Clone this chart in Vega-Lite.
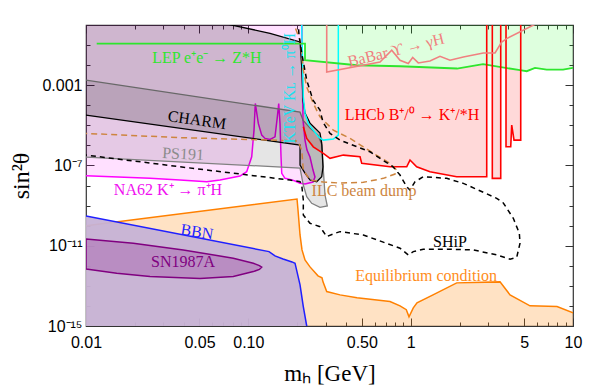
{
"$schema": "https://vega.github.io/schema/vega-lite/v6.json",
"width": 487, "height": 301, "autosize": "none",
"padding": {"left": 86, "top": 25, "right": 26, "bottom": 61},
"background": "white",
"config": {"view": {"stroke": "#333", "strokeWidth": 1.2}},
"datasets": {
"eq": [{"x":0.01,"y":1.0e-10},{"x":0.1995,"y":2.13e-9},{"x":0.2023,"y":6.04e-10},{"x":0.2082,"y":3.44e-11},{"x":0.2141,"y":6.18e-12},{"x":0.2234,"y":1.97e-12},{"x":0.2398,"y":8.81e-13},{"x":0.2686,"y":3.15e-13},{"x":0.2843,"y":2.5e-13},{"x":0.2884,"y":1.58e-13},{"x":0.304,"y":5.2e-14},{"x":0.3671,"y":3.56e-14},{"x":0.4671,"y":2.53e-14},{"x":0.7461,"y":1.66e-14},{"x":0.8597,"y":1.01e-14},{"x":0.94,"y":6.5e-15},{"x":0.9767,"y":2.87e-15},{"x":1.038,"y":8.04e-15},{"x":1.094,"y":1.43e-14},{"x":1.373,"y":3.56e-14},{"x":1.921,"y":1.41e-13},{"x":3.551,"y":1.58e-13},{"x":4.093,"y":3.56e-14},{"x":5.435,"y":1.01e-14},{"x":7.971,"y":9.33e-15},{"x":10,"y":4.54e-15},{"x":11,"y":4e-15},{"x":11,"y":1e-16},{"x":0.01,"y":1e-16}],
"bbn": [{"x":0.01,"y":3.04e-10},{"x":0.1341,"y":5.08e-12},{"x":0.146,"y":3.11e-12},{"x":0.1636,"y":2.2e-12},{"x":0.1858,"y":1.56e-12},{"x":0.1939,"y":1.35e-12},{"x":0.2082,"y":1.12e-13},{"x":0.2181,"y":9.33e-15},{"x":0.2289,"y":1e-15},{"x":0.232,"y":5e-16},{"x":0.01,"y":5e-16}],
"sn": [{"x":0.01,"y":2.18e-11},{"x":0.01956,"y":1.33e-11},{"x":0.03976,"y":6.18e-12},{"x":0.0808,"y":2.39e-12},{"x":0.1073,"y":1.35e-12},{"x":0.117,"y":1.02e-12},{"x":0.1209,"y":8.51e-13},{"x":0.117,"y":6.6e-13},{"x":0.1073,"y":5.14e-13},{"x":0.0808,"y":2.9e-13},{"x":0.0504,"y":2.31e-13},{"x":0.02479,"y":2.9e-13},{"x":0.01546,"y":4.29e-13},{"x":0.01,"y":7.01e-13}],
"charm": [{"x":0.01,"y":37.8},{"x":0.0805,"y":0.966},{"x":0.136,"y":0.386},{"x":0.2082,"y":0.1426},{"x":0.2133,"y":0.00813},{"x":0.2172,"y":1.795e-4},{"x":0.2234,"y":4.05e-5},{"x":0.2398,"y":1.285e-5},{"x":0.2763,"y":4.09e-6},{"x":0.2831,"y":1.3e-6},{"x":0.2884,"y":8.61e-8},{"x":0.2831,"y":2.74e-8},{"x":0.2637,"y":1.545e-8},{"x":0.2398,"y":1.88e-8},{"x":0.2234,"y":4.19e-8},{"x":0.2082,"y":1.047e-7},{"x":0.2082,"y":1.035e-6},{"x":0.01,"y":3.21e-5}],
"ps191": [{"x":0.01,"y":1.774e-3},{"x":0.2082,"y":4.54e-5},{"x":0.2172,"y":1.815e-5},{"x":0.2398,"y":7.26e-6},{"x":0.2686,"y":3.25e-6},{"x":0.2843,"y":1.035e-6},{"x":0.2884,"y":1.047e-7},{"x":0.2967,"y":3.37e-9},{"x":0.3066,"y":9.55e-10},{"x":0.2763,"y":8.22e-10},{"x":0.2457,"y":1.3e-9},{"x":0.2289,"y":2.77e-9},{"x":0.2181,"y":1.059e-8},{"x":0.2082,"y":7.43e-8},{"x":0.01,"y":2.62e-7}],
"na62": [{"x":0.01,"y":2},{"x":0.2141,"y":2},{"x":0.2141,"y":0.01754},{"x":0.2172,"y":1.815e-5},{"x":0.2234,"y":1.836e-6},{"x":0.2298,"y":5.83e-7},{"x":0.2398,"y":2.62e-7},{"x":0.2503,"y":5.9e-8},{"x":0.2574,"y":2.65e-8},{"x":0.2503,"y":1.49e-8},{"x":0.2234,"y":1.19e-8},{"x":0.2082,"y":1.285e-8},{"x":0.1939,"y":1.675e-8},{"x":0.1806,"y":2.03e-8},{"x":0.1682,"y":2.28e-8},{"x":0.1606,"y":4.05e-8},{"x":0.159,"y":2.71e-7},{"x":0.1567,"y":1.245e-5},{"x":0.1539,"y":1.23e-4},{"x":0.1509,"y":2.65e-5},{"x":0.146,"y":2.68e-6},{"x":0.136,"y":1.99e-6},{"x":0.1267,"y":2.23e-6},{"x":0.1209,"y":3.25e-6},{"x":0.1152,"y":1.245e-5},{"x":0.1104,"y":1.23e-4},{"x":0.1084,"y":5.77e-6},{"x":0.1049,"y":2.71e-7},{"x":0.0977,"y":4.86e-8},{"x":0.0889,"y":2.97e-8},{"x":0.06691,"y":1.88e-8},{"x":0.05541,"y":1.545e-8},{"x":0.0379,"y":1.88e-8},{"x":0.02479,"y":2.28e-8},{"x":0.01,"y":3.08e-8}],
"lepfill": [{"x":0.2141,"y":2},{"x":0.2141,"y":0.1189},{"x":0.2234,"y":0.1189},{"x":0.2234,"y":0.01754},{"x":0.4671,"y":0.00989},{"x":0.8597,"y":0.00881},{"x":1.929,"y":0.00678},{"x":2.791,"y":0.0111},{"x":4.717,"y":0.00557},{"x":5.187,"y":0.00498},{"x":5.834,"y":0.00726},{"x":6.888,"y":0.00604},{"x":8.681,"y":0.00604},{"x":10,"y":0.00726},{"x":10,"y":2}],
"lep": [{"x":0.01164,"y":0.1189},{"x":0.2234,"y":0.1189},{"x":0.2234,"y":0.01754},{"x":0.4671,"y":0.00989},{"x":0.8597,"y":0.00881},{"x":1.929,"y":0.00678},{"x":2.791,"y":0.0111},{"x":4.717,"y":0.00557},{"x":5.187,"y":0.00498},{"x":5.834,"y":0.00726},{"x":6.888,"y":0.00604},{"x":8.681,"y":0.00604},{"x":10,"y":0.00726}],
"lhcbfill": [{"g":"a","x":0.2141,"y":0.01754},{"g":"a","x":0.2181,"y":8.41e-6},{"g":"a","x":0.2289,"y":2.23e-6},{"g":"a","x":0.2513,"y":8.51e-7},{"g":"a","x":0.2896,"y":4.0e-7},{"g":"a","x":0.3185,"y":2.25e-7},{"g":"a","x":0.3847,"y":3.29e-7},{"g":"a","x":0.4876,"y":2.71e-7},{"g":"a","x":0.4995,"y":1.27e-7},{"g":"a","x":0.7461,"y":8.61e-8},{"g":"a","x":0.9454,"y":8.61e-8},{"g":"a","x":0.9906,"y":1.86e-7},{"g":"a","x":1.089,"y":8.61e-8},{"g":"a","x":1.315,"y":4.86e-8},{"g":"a","x":1.921,"y":2.74e-8},{"g":"a","x":2.941,"y":2.74e-8},{"g":"a","x":2.941,"y":0.01035},{"g":"a","x":2.791,"y":0.0111},{"g":"a","x":1.929,"y":0.00678},{"g":"a","x":0.8597,"y":0.00881},{"g":"a","x":0.4671,"y":0.00989},{"g":"a","x":0.2234,"y":0.01754},
{"g":"b","x":3.184,"y":0.00955},{"g":"b","x":3.184,"y":2.28e-8},{"g":"b","x":3.587,"y":2.28e-8},{"g":"b","x":3.587,"y":0.00794},
{"g":"c","x":3.867,"y":0.0072},{"g":"c","x":3.867,"y":8.51e-7},{"g":"c","x":4.134,"y":8.51e-7},{"g":"c","x":4.193,"y":1.023e-5},{"g":"c","x":4.332,"y":1.836e-6},{"g":"c","x":4.764,"y":1.836e-6},{"g":"c","x":4.764,"y":0.0055}],
"lhcb": [{"x":0.2181,"y":8.41e-6},{"x":0.2289,"y":2.23e-6},{"x":0.2513,"y":8.51e-7},{"x":0.2896,"y":4.0e-7},{"x":0.3185,"y":2.25e-7},{"x":0.3847,"y":3.29e-7},{"x":0.4876,"y":2.71e-7},{"x":0.4995,"y":1.27e-7},{"x":0.7461,"y":8.61e-8},{"x":0.9454,"y":8.61e-8},{"x":0.9906,"y":1.86e-7},{"x":1.089,"y":8.61e-8},{"x":1.315,"y":4.86e-8},{"x":1.921,"y":2.74e-8},{"x":2.941,"y":2.74e-8},{"x":2.941,"y":1.5},{"x":3.184,"y":1.5},{"x":3.184,"y":2.28e-8},{"x":3.587,"y":2.28e-8},{"x":3.587,"y":1.5},{"x":3.867,"y":1.5},{"x":3.867,"y":8.51e-7},{"x":4.134,"y":8.51e-7},{"x":4.193,"y":1.023e-5},{"x":4.332,"y":1.836e-6},{"x":4.764,"y":1.836e-6},{"x":4.764,"y":1.5}],
"ktev": [{"x":0.2133,"y":1.5},{"x":0.2133,"y":0.794},{"x":0.2162,"y":0.00813},{"x":0.2181,"y":2.62e-4},{"x":0.2234,"y":3.91e-5},{"x":0.2341,"y":1.245e-5},{"x":0.2513,"y":5.77e-6},{"x":0.2698,"y":2.68e-6},{"x":0.2896,"y":1.836e-6},{"x":0.3338,"y":2.06e-6},{"x":0.3584,"y":3.25e-6},{"x":0.3584,"y":1.5}],
"babar": [{"x":0.304,"y":1.5},{"x":0.304,"y":0.00459},{"x":0.6473,"y":0.01442},{"x":0.7644,"y":0.0551},{"x":0.8597,"y":0.01754},{"x":0.9669,"y":0.01202},{"x":1.029,"y":0.0239},{"x":1.114,"y":0.01285},{"x":1.315,"y":0.01619},{"x":1.516,"y":0.0277},{"x":1.747,"y":0.01754},{"x":2.11,"y":0.0256},{"x":2.802,"y":0.0405},{"x":3.308,"y":0.0405},{"x":3.637,"y":0.1426},{"x":3.906,"y":0.21},{"x":5.671,"y":0.966},{"x":6.724,"y":1.92}],
"ilc": [{"x":0.1806,"y":1.71},{"x":0.1939,"y":0.794},{"x":0.2082,"y":0.173},{"x":0.2133,"y":0.0378},{"x":0.2181,"y":0.00557},{"x":0.2289,"y":8.23e-4},{"x":0.2513,"y":1.23e-4},{"x":0.2763,"y":2.65e-5},{"x":0.3338,"y":5.77e-6},{"x":0.423,"y":2.23e-6},{"x":0.5109,"y":8.51e-7},{"x":0.5861,"y":4.14e-7},{"x":0.7461,"y":1.27e-7},{"x":0.8204,"y":5.9e-8},{"x":0.8009,"y":3.73e-8},{"x":0.6785,"y":2.28e-8},{"x":0.5109,"y":1.44e-8},{"x":0.3671,"y":1.33e-8},{"x":0.2896,"y":1.49e-8},{"x":0.2398,"y":1.88e-8},{"x":0.2181,"y":5.9e-8},{"x":0.2133,"y":5.83e-7},{"x":0.2023,"y":1.64e-6},{"x":0.1806,"y":1.73e-6},{"x":0.0379,"y":2.44e-6},{"x":0.01,"y":3.95e-6}],
"ship": [{"x":0.2023,"y":1.71},{"x":0.2052,"y":0.308},{"x":0.2133,"y":0.0391},{"x":0.2289,"y":1.774e-3},{"x":0.2503,"y":1.795e-4},{"x":0.2763,"y":5.7e-5},{"x":0.2884,"y":1.44e-5},{"x":0.3185,"y":3.95e-6},{"x":0.3671,"y":1.836e-6},{"x":0.423,"y":1.16e-6},{"x":0.5617,"y":4.81e-7},{"x":0.7786,"y":8.61e-8},{"x":0.8597,"y":3.33e-8},{"x":0.9454,"y":8.71e-9},{"x":0.9906,"y":5.97e-9},{"x":1.063,"y":1.545e-8},{"x":1.196,"y":2.74e-8},{"x":1.667,"y":2.28e-8},{"x":2.11,"y":1.285e-8},{"x":3.389,"y":2.31e-9},{"x":3.722,"y":1.35e-9},{"x":4.289,"y":2.33e-10},{"x":4.671,"y":4.19e-11},{"x":4.717,"y":1.33e-11},{"x":4.502,"y":2.68e-12},{"x":4.093,"y":2.13e-12},{"x":3.389,"y":3.48e-12},{"x":2.432,"y":6.18e-12},{"x":1.747,"y":6.7e-12},{"x":1.196,"y":6.7e-12},{"x":1.038,"y":5.08e-12},{"x":0.9669,"y":3.48e-12},{"x":0.8597,"y":7.52e-12},{"x":0.5109,"y":3.44e-11},{"x":0.3671,"y":5.03e-11},{"x":0.342,"y":4.19e-11},{"x":0.304,"y":2.84e-11},{"x":0.2763,"y":8.91e-11},{"x":0.2398,"y":1.315e-10},{"x":0.2181,"y":3.4e-10},{"x":0.2181,"y":1.9e-9},{"x":0.2133,"y":1.06e-8},{"x":0.2082,"y":1.545e-8},{"x":0.1806,"y":1.88e-8},{"x":0.0379,"y":8.61e-8},{"x":0.01,"y":3.29e-7}]
},
"encoding": {
"x": {"field": "x", "type": "quantitative", "scale": {"type": "log", "domain": [0.01, 10]}, "axis": null},
"y": {"field": "y", "type": "quantitative", "scale": {"type": "log", "domain": [1e-15, 1]}, "axis": null}
},
"layer": [
{"data": {"name": "eq"}, "mark": {"type": "line", "clip": true, "fill": "#ff8000", "fillOpacity": 0.23, "stroke": "#ff8000", "strokeWidth": 1.5},
 "encoding": {"order": {"value": null},
  "x": {"field": "x", "type": "quantitative", "scale": {"type": "log", "domain": [0.01, 10]},
   "axis": {"orient": "bottom", "values": [0.01,0.02,0.03,0.04,0.05,0.06,0.07,0.08,0.09,0.1,0.2,0.3,0.4,0.5,0.6,0.7,0.8,0.9,1,2,3,4,5,6,7,8,9,10],
    "labelExpr": "datum.value==0.01?'0.01':datum.value==0.05?'0.05':datum.value==0.1?'0.10':datum.value==0.5?'0.50':datum.value==1?'1':datum.value==5?'5':datum.value==10?'10':''",
    "tickSize": {"condition": {"test": "indexof([0.01,0.05,0.1,0.5,1,5,10], datum.value) >= 0", "value": -8}, "value": -4},
    "tickColor": "#333", "domain": false, "grid": false, "labelOverlap": false, "labelFlush": false, "labelBound": false,
    "labelFont": "Liberation Sans", "labelFontSize": 16, "labelColor": "black", "labelPadding": 16,
    "title": "mₕ [GeV]", "titleFont": "Liberation Serif", "titleFontSize": 23, "titleFontWeight": "normal", "titleColor": "black", "titlePadding": 8}},
  "y": {"field": "y", "type": "quantitative", "scale": {"type": "log", "domain": [1e-15, 1]},
   "axis": {"orient": "left", "values": [1e-15,1e-14,1e-13,1e-12,1e-11,1e-10,1e-9,1e-8,1e-7,1e-6,1e-5,1e-4,1e-3,1e-2,1e-1,1],
    "labelExpr": "datum.value==1e-15?'10⁻¹⁵':datum.value==1e-11?'10⁻¹¹':datum.value==1e-7?'10⁻⁷':datum.value==1e-3?'0.001':''",
    "tickSize": {"condition": {"test": "indexof([1e-15,1e-11,1e-7,1e-3], datum.value) >= 0", "value": -8}, "value": -4},
    "tickColor": "#333", "domain": false, "grid": false, "labelOverlap": false, "labelFlush": false, "labelBound": false,
    "labelFont": "Liberation Sans", "labelFontSize": 16, "labelColor": "black", "labelPadding": 12,
    "title": "sin²θ", "titleFont": "Liberation Serif", "titleFontSize": 24, "titleFontWeight": "normal", "titleColor": "black", "titlePadding": 8}}}},
{"data": {"name": "bbn"}, "mark": {"type": "line", "clip": true, "fill": "#c6b2d6", "fillOpacity": 0.95, "stroke": "#1f1fff", "strokeWidth": 1.5}, "encoding": {"order": {"value": null}}},
{"data": {"name": "sn"}, "mark": {"type": "line", "clip": true, "fill": "#800080", "fillOpacity": 0.22, "stroke": "#800080", "strokeWidth": 1.5, "interpolate": "linear-closed"}, "encoding": {"order": {"value": null}}},
{"data": {"name": "lepfill"}, "mark": {"type": "line", "clip": true, "fill": "#00ff00", "fillOpacity": 0.13, "strokeOpacity": 0},
 "encoding": {"order": {"value": null},
  "x": {"field": "x", "type": "quantitative", "scale": {"type": "log", "domain": [0.01, 10]},
   "axis": {"orient": "top", "values": [0.01,0.02,0.03,0.04,0.05,0.06,0.07,0.08,0.09,0.1,0.2,0.3,0.4,0.5,0.6,0.7,0.8,0.9,1,2,3,4,5,6,7,8,9,10], "labels": false, "title": null,
    "tickSize": {"condition": {"test": "indexof([0.01,0.05,0.1,0.5,1,5,10], datum.value) >= 0", "value": -8}, "value": -4}, "tickColor": "#333", "domain": false, "grid": false}},
  "y": {"field": "y", "type": "quantitative", "scale": {"type": "log", "domain": [1e-15, 1]},
   "axis": {"orient": "right", "values": [1e-15,1e-14,1e-13,1e-12,1e-11,1e-10,1e-9,1e-8,1e-7,1e-6,1e-5,1e-4,1e-3,1e-2,1e-1,1], "labels": false, "title": null,
    "tickSize": {"condition": {"test": "indexof([1e-15,1e-11,1e-7,1e-3], datum.value) >= 0", "value": -8}, "value": -4}, "tickColor": "#333", "domain": false, "grid": false}}}},
{"data": {"name": "lhcbfill"}, "mark": {"type": "line", "clip": true, "fill": "#ff0000", "fillOpacity": 0.15, "strokeOpacity": 0}, "encoding": {"order": {"value": null}, "detail": {"field": "g"}}},
{"data": {"name": "na62"}, "mark": {"type": "line", "clip": true, "fill": "#ff00ff", "fillOpacity": 0.12, "stroke": "#ff00ff", "strokeWidth": 1.5}, "encoding": {"order": {"value": null}}},
{"data": {"name": "ps191"}, "mark": {"type": "line", "clip": true, "fill": "#000000", "fillOpacity": 0.1, "stroke": "#808080", "strokeWidth": 1.3}, "encoding": {"order": {"value": null}}},
{"data": {"name": "charm"}, "mark": {"type": "line", "clip": true, "fill": "#000000", "fillOpacity": 0.19, "stroke": "#000000", "strokeWidth": 1.3}, "encoding": {"order": {"value": null}}},
{"data": {"name": "ktev"}, "mark": {"type": "line", "clip": true, "stroke": "#00ffff", "strokeWidth": 1.5}, "encoding": {"order": {"value": null}}},
{"data": {"name": "lep"}, "mark": {"type": "line", "clip": true, "stroke": "#2ee62e", "strokeWidth": 1.8}, "encoding": {"order": {"value": null}}},
{"data": {"name": "lhcb"}, "mark": {"type": "line", "clip": true, "stroke": "#ff0000", "strokeWidth": 1.6}, "encoding": {"order": {"value": null}}},
{"data": {"name": "babar"}, "mark": {"type": "line", "clip": true, "stroke": "#f08080", "strokeWidth": 1.6}, "encoding": {"order": {"value": null}}},
{"data": {"name": "ilc"}, "mark": {"type": "line", "clip": true, "stroke": "#cd853f", "strokeWidth": 1.5, "strokeDash": [6, 4]}, "encoding": {"order": {"value": null}}},
{"data": {"name": "ship"}, "mark": {"type": "line", "clip": true, "stroke": "#000000", "strokeWidth": 1.5, "strokeDash": [5, 4]}, "encoding": {"order": {"value": null}}},
{"data": {"values": [{"x": 0.0556, "y": 0.022, "label": "LEP e⁺e⁻ → Z*H"}]}, "mark": {"type": "text", "font": "Liberation Serif", "fontSize": 16, "color": "#2ee62e"}, "encoding": {"text": {"field": "label"}}},
{"data": {"values": [{"x": 0.0483, "y": 1.815e-5, "label": "CHARM"}]}, "mark": {"type": "text", "font": "Liberation Serif", "fontSize": 16, "color": "#000000", "angle": 8}, "encoding": {"text": {"field": "label"}}},
{"data": {"values": [{"x": 0.0396, "y": 3.69e-7, "label": "PS191"}]}, "mark": {"type": "text", "font": "Liberation Serif", "fontSize": 16, "color": "#8c8c8c", "angle": 3}, "encoding": {"text": {"field": "label"}}},
{"data": {"values": [{"x": 0.032, "y": 5.97e-9, "label": "NA62 K⁺ → π⁺H"}]}, "mark": {"type": "text", "font": "Liberation Serif", "fontSize": 16, "color": "#f010f0"}, "encoding": {"text": {"field": "label"}}},
{"data": {"values": [{"x": 0.0483, "y": 4.86e-11, "label": "BBN"}]}, "mark": {"type": "text", "font": "Liberation Serif", "fontSize": 16, "color": "#1f1fff", "angle": 9}, "encoding": {"text": {"field": "label"}}},
{"data": {"values": [{"x": 0.0396, "y": 1.56e-12, "label": "SN1987A"}]}, "mark": {"type": "text", "font": "Liberation Serif", "fontSize": 16, "color": "#800080"}, "encoding": {"text": {"field": "label"}}},
{"data": {"values": [{"x": 1.243, "y": 3.15e-13, "label": "Equilibrium condition"}]}, "mark": {"type": "text", "font": "Liberation Serif", "fontSize": 16, "color": "#ff8c1a"}, "encoding": {"text": {"field": "label"}}},
{"data": {"values": [{"x": 1.747, "y": 1.545e-11, "label": "SHiP"}]}, "mark": {"type": "text", "font": "Liberation Serif", "fontSize": 16, "color": "#000000"}, "encoding": {"text": {"field": "label"}}},
{"data": {"values": [{"x": 0.516, "y": 5.32e-9, "label": "ILC beam dump"}]}, "mark": {"type": "text", "font": "Liberation Serif", "fontSize": 16, "color": "#cd853f"}, "encoding": {"text": {"field": "label"}}},
{"data": {"values": [{"x": 1.019, "y": 3.21e-5, "label": "LHCb B⁺/⁰ → K⁺/*H"}]}, "mark": {"type": "text", "font": "Liberation Serif", "fontSize": 16, "color": "#ff0000"}, "encoding": {"text": {"field": "label"}}},
{"data": {"values": [{"x": 0.8125, "y": 0.0551, "label": "BaBar ϒ → γH"}]}, "mark": {"type": "text", "font": "Liberation Serif", "fontSize": 16, "color": "#f08080", "angle": 346}, "encoding": {"text": {"field": "label"}}},
{"data": {"values": [{"x": 0.1806, "y": 7.1e-4, "label": "KTeV Kʟ → π⁰H"}]}, "mark": {"type": "text", "font": "Liberation Serif", "fontSize": 16, "color": "#20e0f0", "angle": 270}, "encoding": {"text": {"field": "label"}}}
],
"resolve": {"axis": {"x": "independent", "y": "independent"}}
}
